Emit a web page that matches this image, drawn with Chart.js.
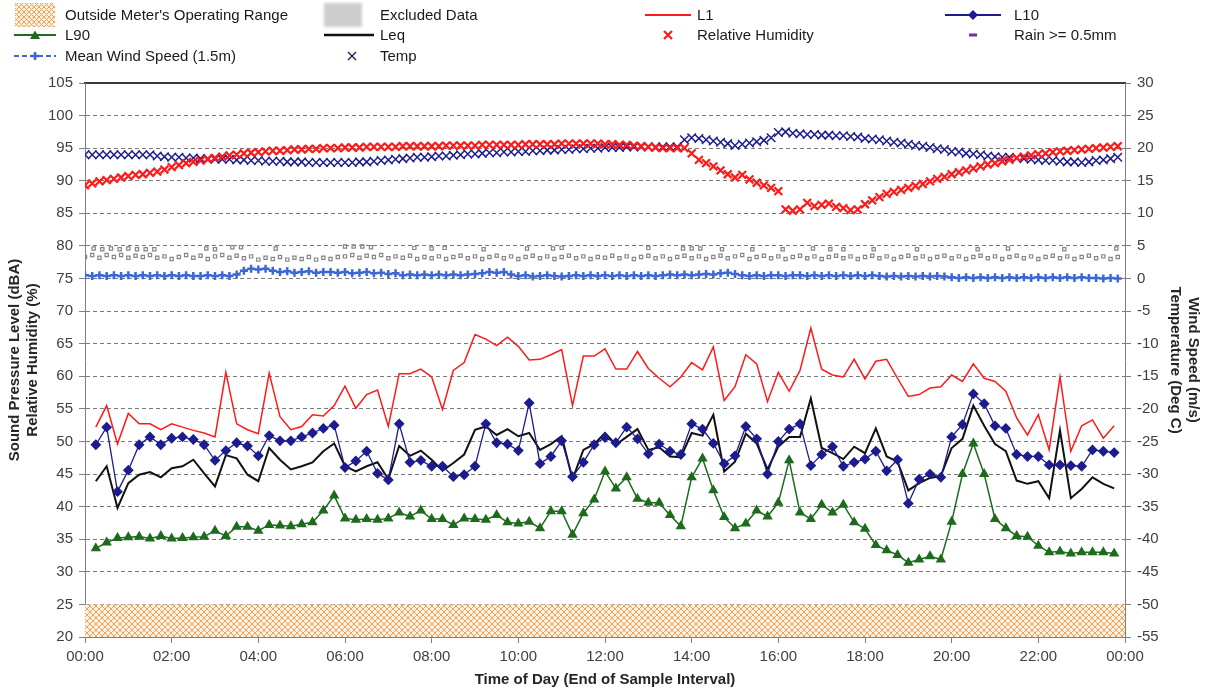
<!DOCTYPE html>
<html>
<head>
<meta charset="utf-8">
<script src="https://cdn.jsdelivr.net/npm/chart.js@4.4.0/dist/chart.umd.min.js"></script>
<style>
  html, body { margin: 0; padding: 0; background: #fff; }
  #wrap { position: relative; width: 1205px; height: 693px; font-family: Arial, "Liberation Sans", sans-serif; }
  #chart { position: absolute; left: 0; top: 0; }
  .lg-icon { position: absolute; height: 26px; }
  .lg-text { position: absolute; font-size: 15px; color: #1a1a1a; line-height: 20px; white-space: nowrap; }
</style>
</head>
<body>
<div id="wrap">
  <canvas id="chart" width="1205" height="693"></canvas>
  <div id="legend"></div>
</div>
<script>
// =====================
// 資料 (15 分鐘 / 10 分鐘)
// =====================
// noise levels, dBA, 00:15 .. 23:45 every 15 min
const L1 = [
  52.2, 55.5, 49.6, 54.3, 52.7, 52.7, 51.8, 52.7, 52.2, 51.7, 51.3, 50.7, 60.6, 52.7, 51.8, 51.2, 60.5, 53.8, 51.8, 52.3, 54.1, 53.9, 55.5, 58.5, 55.1,
  57.2, 57.9, 52.3, 60.4, 60.4, 61.1, 59.9, 54.9, 60.9, 62.1, 66.4, 65.7, 64.7, 66.0, 64.6, 62.5, 62.6, 63.3, 64.1, 55.5, 63.1, 63.1, 64.2, 61.1,
  61.1, 63.8, 61.2, 59.7, 58.4, 59.9, 62.1, 61.0, 64.5, 56.3, 58.4, 63.3, 61.9, 56.1, 60.6, 57.7, 60.9, 67.4, 61.1, 60.2, 59.9, 62.6, 59.6, 62.3,
  62.6, 59.7, 56.9, 57.2, 58.2, 58.4, 60.2, 59.2, 61.9, 59.7, 59.2, 57.7, 53.6, 51.0, 54.1, 48.7, 59.9, 48.5, 52.4, 53.3, 50.5, 52.4
];
const L10 = [
  49.5, 52.2, 42.3, 45.6, 49.5, 50.7, 49.5, 50.5, 50.7, 50.3, 49.5, 47.1, 48.6, 49.8, 49.3, 47.8, 50.9, 50.1, 50.1, 50.7, 51.3, 52.0, 52.5, 46.0, 47.0,
  48.5, 45.1, 44.1, 52.7, 46.8, 47.1, 46.2, 46.2, 44.6, 44.9, 46.2, 52.7, 49.8, 49.6, 48.6, 55.9, 46.6, 47.7, 50.1, 44.6, 46.8, 49.5, 50.6, 49.8,
  52.2, 50.4, 48.1, 49.6, 48.5, 48.0, 52.7, 51.9, 49.7, 46.6, 47.8, 52.3, 50.4, 45.0, 50.0, 51.9, 52.7, 46.3, 48.0, 49.2, 46.2, 46.8, 47.3, 48.5,
  45.5, 47.2, 40.5, 44.2, 45.0, 44.5, 50.7, 52.6, 57.3, 55.8, 52.4, 52.0, 48.0, 47.7, 47.7, 46.4, 46.4, 46.3, 46.2, 48.7, 48.5, 48.3
];
const Leq = [
  43.9, 46.2, 39.8, 43.6, 44.9, 45.3, 44.5, 45.9, 46.2, 47.2, 45.1, 43.1, 47.9, 47.4, 44.9, 43.9, 49.0, 47.2, 45.7, 46.2, 46.8, 48.5, 49.7, 46.2, 45.4,
  46.2, 46.8, 44.2, 49.3, 47.8, 48.6, 47.2, 45.5, 46.7, 48.0, 51.8, 52.3, 51.0, 51.9, 50.8, 51.3, 48.7, 49.6, 50.8, 44.2, 48.7, 49.6, 51.3, 49.5,
  50.7, 51.9, 48.7, 49.1, 47.7, 47.6, 51.3, 50.9, 54.1, 45.4, 46.9, 51.2, 49.7, 45.7, 49.2, 50.7, 50.7, 56.6, 49.0, 48.2, 47.3, 49.2, 48.2, 52.0,
  47.7, 46.9, 42.5, 43.6, 44.4, 44.7, 49.0, 50.4, 55.5, 52.4, 49.6, 48.5, 44.0, 43.5, 43.9, 41.3, 51.7, 41.3, 42.7, 44.5, 43.5, 42.8
];
const L90 = [
  33.6, 34.5, 35.2, 35.3, 35.4, 35.1, 35.5, 35.1, 35.2, 35.3, 35.4, 36.3, 35.5, 36.9, 36.9, 36.3, 37.2, 37.1, 37.0, 37.3, 37.6, 39.4, 41.7, 38.2, 38.0,
  38.1, 38.0, 38.2, 39.1, 38.5, 39.4, 38.1, 38.1, 37.2, 38.2, 38.1, 38.0, 38.7, 37.6, 37.4, 37.7, 36.7, 39.3, 39.3, 35.7, 39.0, 41.1, 45.4, 42.8,
  44.5, 41.2, 40.6, 40.6, 38.7, 37.0, 44.5, 47.4, 42.5, 38.4, 36.7, 37.4, 39.4, 38.5, 40.6, 47.1, 39.1, 38.1, 40.3, 39.1, 40.3, 37.6, 36.6, 34.1,
  33.3, 32.6, 31.4, 31.9, 32.4, 31.9, 37.7, 45.0, 49.7, 45.0, 38.1, 36.7, 35.5, 35.4, 34.0, 33.0, 33.1, 32.8, 33.0, 33.0, 33.0, 32.8
];

// weather, 00:00 .. 23:50 every 10 min
const humidity = [
  89.3, 89.6, 89.9, 90.1, 90.3, 90.5, 90.7, 90.9, 91.0, 91.2, 91.4, 91.7,
  92.1, 92.4, 92.7, 92.9, 93.1, 93.3, 93.5, 93.7, 93.9, 94.0, 94.2, 94.3,
  94.4, 94.5, 94.6, 94.6, 94.7, 94.8, 94.8, 94.9, 94.9, 95.0, 95.0, 95.0,
  95.1, 95.1, 95.1, 95.2, 95.2, 95.2, 95.2, 95.2, 95.3, 95.3, 95.3, 95.3,
  95.3, 95.3, 95.4, 95.4, 95.4, 95.4, 95.4, 95.5, 95.5, 95.5, 95.5, 95.5,
  95.5, 95.6, 95.6, 95.6, 95.6, 95.6, 95.7, 95.7, 95.7, 95.7, 95.7, 95.7,
  95.6, 95.6, 95.5, 95.5, 95.4, 95.3, 95.2, 95.1, 95.0, 95.0, 95.0, 95.0,
  94.2, 93.2, 92.7, 92.2, 91.6, 91.0, 90.5, 90.9, 90.2, 89.7, 89.3, 88.9,
  88.4, 85.6, 85.4, 85.6, 86.6, 86.1, 86.3, 86.5, 86.0, 85.8, 85.5, 85.6,
  86.4, 87.0, 87.5, 88.0, 88.3, 88.6, 88.9, 89.2, 89.5, 89.9, 90.3, 90.6,
  91.0, 91.3, 91.6, 91.9, 92.2, 92.5, 92.7, 93.0, 93.2, 93.5, 93.7, 93.9,
  94.1, 94.2, 94.4, 94.5, 94.6, 94.7, 94.8, 94.9, 95.0, 95.1, 95.2, 95.3
];
const temp = [
  19.0, 19.0, 19.0, 19.0, 19.0, 19.0, 19.0, 19.0, 19.0, 19.0, 18.8, 18.7,
  18.6, 18.6, 18.5, 18.5, 18.4, 18.4, 18.3, 18.3, 18.3, 18.2, 18.2, 18.1,
  18.1, 18.0, 18.0, 18.0, 17.9, 17.9, 17.9, 17.8, 17.8, 17.8, 17.8, 17.8,
  17.8, 17.8, 17.9, 17.9, 18.0, 18.1, 18.2, 18.3, 18.4, 18.5, 18.6, 18.6,
  18.7, 18.8, 18.8, 18.9, 19.0, 19.1, 19.1, 19.2, 19.3, 19.3, 19.4, 19.4,
  19.5, 19.5, 19.6, 19.6, 19.7, 19.7, 19.8, 19.8, 19.9, 19.9, 20.0, 20.0,
  20.1, 20.1, 20.1, 20.2, 20.2, 20.2, 20.2, 20.2, 20.2, 20.2, 20.2, 21.3,
  21.6, 21.5, 21.3, 21.1, 20.9, 20.7, 20.4, 20.6, 20.8, 21.0, 21.2, 21.6,
  22.4, 22.5, 22.3, 22.2, 22.1, 22.1, 22.0, 22.0, 21.9, 21.9, 21.8, 21.7,
  21.5, 21.4, 21.3, 21.1, 20.9, 20.8, 20.6, 20.4, 20.3, 20.1, 19.9, 19.8,
  19.5, 19.4, 19.2, 19.1, 19.0, 18.8, 18.7, 18.6, 18.6, 18.5, 18.4, 18.3,
  18.2, 18.1, 18.1, 18.0, 17.9, 17.9, 17.8, 17.9, 18.1, 18.2, 18.4, 18.6
];
const wind = [
  0.5, 0.4, 0.5, 0.4, 0.5, 0.4, 0.5, 0.4, 0.5, 0.4, 0.5, 0.4,
  0.5, 0.4, 0.5, 0.4, 0.4, 0.5, 0.4, 0.5, 0.4, 0.6, 1.2, 1.5,
  1.4, 1.5, 1.2, 1.0, 1.1, 0.9, 1.0, 1.1, 0.9, 1.0, 1.0, 0.9,
  1.0, 0.8, 0.9, 1.0, 0.8, 0.9, 0.7, 0.8, 0.5, 0.6, 0.5, 0.6,
  0.5, 0.6, 0.5, 0.6, 0.5, 0.6, 0.7, 0.8, 1.0, 0.9, 1.0, 0.6,
  0.4, 0.5, 0.3, 0.4, 0.5, 0.4, 0.3, 0.4, 0.5, 0.4, 0.5, 0.4,
  0.5, 0.4, 0.5, 0.4, 0.5, 0.4, 0.5, 0.4, 0.5, 0.6, 0.5, 0.6,
  0.5, 0.6, 0.7, 0.6, 0.8, 0.9, 0.7, 0.5, 0.4, 0.5, 0.4, 0.5,
  0.5, 0.4, 0.5, 0.5, 0.4, 0.5, 0.4, 0.5, 0.4, 0.5, 0.4, 0.5,
  0.4, 0.5, 0.4, 0.3, 0.4, 0.3, 0.4, 0.3, 0.4, 0.3, 0.4, 0.3,
  0.2, 0.1, 0.2, 0.1, 0.2, 0.1, 0.2, 0.1, 0.2, 0.1, 0.2, 0.1,
  0.2, 0.1, 0.2, 0.1, 0.2, 0.1, 0.2, 0.1, 0.1, 0.0, 0.1, 0.0
];
// small grey station marks (right axis units)
const marksLow = [
  3.3, 3.6, 3.2, 3.6, 3.3, 3.6, 3.2, 3.5, 3.3, 3.6, 3.2, 3.4,
  3.0, 3.3, 3.6, 3.2, 3.5, 3.0, 3.4, 3.6, 3.2, 3.5, 3.1, 3.4,
  2.9, 3.2, 3.0, 3.3, 2.9, 3.2, 3.0, 3.3, 2.9, 3.2, 3.0, 3.3,
  3.4, 3.6, 3.2, 3.5, 3.3, 3.6, 3.1, 3.4, 3.2, 3.5, 3.0, 3.3,
  3.1, 3.4, 3.0, 3.3, 3.5, 3.1, 3.4, 3.0, 3.3, 3.5, 3.1, 3.4,
  3.0, 3.3, 3.5, 3.1, 3.4, 3.0, 3.3, 3.5, 3.1, 3.4, 3.0, 3.3,
  3.2, 3.5, 3.1, 3.4, 3.0, 3.3, 3.5, 3.1, 3.4, 3.0, 3.3, 3.5,
  3.1, 3.4, 3.0, 3.3, 3.5, 3.1, 3.4, 3.6, 3.0, 3.3, 3.5, 3.1,
  3.4, 3.0, 3.3, 3.5, 3.1, 3.4, 3.0, 3.3, 3.5, 3.1, 3.4, 3.0,
  3.3, 3.5, 3.1, 3.4, 3.0, 3.3, 3.5, 3.1, 3.4, 3.0, 3.3, 3.5,
  3.1, 3.4, 3.0, 3.3, 3.5, 3.1, 3.4, 3.0, 3.3, 3.5, 3.1, 3.4,
  3.0, 3.3, 3.5, 3.1, 3.4, 3.0, 3.3, 3.5, 3.1, 3.4, 3.0, 3.3
];
const marksHigh = [
  [0.2, 4.6], [0.4, 4.5], [0.6, 4.6], [0.8, 4.5], [1.0, 4.6], [1.2, 4.5], [1.4, 4.5], [1.6, 4.5],
  [2.8, 4.6], [3.0, 4.5], [3.4, 4.8], [3.6, 4.8], [4.4, 4.6], [6.0, 4.9], [6.2, 4.9], [6.4, 4.9],
  [6.6, 4.8], [7.6, 4.7], [8.0, 4.6], [8.3, 4.7], [9.2, 4.5], [10.2, 4.6], [10.8, 4.6], [11.0, 4.7],
  [13.0, 4.7], [13.8, 4.6], [14.0, 4.6], [14.2, 4.6], [14.7, 4.5], [15.4, 4.5], [16.1, 4.5], [16.8, 4.6],
  [17.2, 4.5], [17.5, 4.5], [18.2, 4.5], [19.2, 4.5], [20.6, 4.5], [21.3, 4.6], [22.6, 4.5], [23.8, 4.6]
];
const meterRange = [20, 25]; // outside operating range band (dBA)

const hours15 = L1.map((_, i) => (i + 1) / 4);
const hours10 = humidity.map((_, i) => i / 6);
const pts = (xs, ys) => ys.map((y, i) => ({ x: xs[i], y }));

const C = {
  red: '#ff1a1a', navy: '#1c1c8f', green: '#1e6b1e', black: '#111111',
  blue: '#3b67d8', purple: '#7030a0', grey: '#858585'
};

// 斜線填滿
function hatchPattern() {
  const c = document.createElement('canvas');
  c.width = 6; c.height = 6;
  const g = c.getContext('2d');
  g.fillStyle = '#fff1e2';
  g.fillRect(0, 0, 6, 6);
  g.strokeStyle = '#f2a35a';
  g.lineWidth = 1;
  g.beginPath();
  g.moveTo(0, 0); g.lineTo(6, 6);
  g.moveTo(6, 0); g.lineTo(0, 6);
  g.stroke();
  return g.createPattern(c, 'repeat');
}

Chart.defaults.font.family = 'Arial, "Liberation Sans", sans-serif';

const ctx = document.getElementById('chart').getContext('2d');
new Chart(ctx, {
  type: 'line',
  data: {
    datasets: [
      {
        label: "Outside Meter's Operating Range",
        data: [{ x: 0, y: meterRange[1] }, { x: 24, y: meterRange[1] }],
        yAxisID: 'y', borderWidth: 0, pointRadius: 0,
        fill: { value: meterRange[0] }, backgroundColor: hatchPattern(), order: 20
      },
      {
        label: 'Relative Humidity', data: pts(hours10, humidity), yAxisID: 'y',
        showLine: false, pointStyle: 'crossRot', pointRadius: 5.5, borderWidth: 2.2,
        borderColor: C.red, backgroundColor: C.red, order: 1
      },
      {
        label: 'Temp', data: pts(hours10, temp), yAxisID: 'y1',
        showLine: false, pointStyle: 'crossRot', pointRadius: 6, borderWidth: 1.5,
        borderColor: C.navy, backgroundColor: C.navy, order: 2
      },
      {
        label: 'Mean Wind Speed (1.5m)', data: pts(hours10, wind), yAxisID: 'y1',
        borderColor: C.blue, backgroundColor: C.blue, borderWidth: 1.5, borderDash: [5, 3],
        pointStyle: 'cross', pointRadius: 4, pointBorderWidth: 2.5, order: 3
      },
      {
        label: 'marks', data: pts(hours10, marksLow), yAxisID: 'y1',
        showLine: false, pointStyle: 'rect', pointRadius: 2.3, borderWidth: 1.2,
        borderColor: C.grey, backgroundColor: 'rgba(0,0,0,0)', order: 4
      },
      {
        label: 'marks2', data: marksHigh.map(p => ({ x: p[0], y: p[1] })), yAxisID: 'y1',
        showLine: false, pointStyle: 'rect', pointRadius: 2.3, borderWidth: 1.2,
        borderColor: C.grey, backgroundColor: 'rgba(0,0,0,0)', order: 4
      },
      {
        label: 'L90', data: pts(hours15, L90), yAxisID: 'y',
        borderColor: C.green, backgroundColor: C.green, borderWidth: 1.5,
        pointStyle: 'triangle', pointRadius: 4.5, order: 5
      },
      {
        label: 'L10', data: pts(hours15, L10), yAxisID: 'y',
        borderColor: C.navy, backgroundColor: C.navy, borderWidth: 1.3,
        pointStyle: 'rectRot', pointRadius: 4.5, order: 6
      },
      {
        label: 'Leq', data: pts(hours15, Leq), yAxisID: 'y',
        borderColor: C.black, borderWidth: 2, pointRadius: 0, order: 7
      },
      {
        label: 'L1', data: pts(hours15, L1), yAxisID: 'y',
        borderColor: C.red, borderWidth: 1.5, pointRadius: 0, order: 8
      },
      { label: 'Rain >= 0.5mm', data: [], yAxisID: 'y1', borderColor: C.purple, order: 9 }
    ]
  },
  options: {
    responsive: false,
    animation: false,
    devicePixelRatio: 1,
    layout: { padding: { top: 83, left: 0, right: 0, bottom: 0 } },
    plugins: { legend: { display: false }, tooltip: { enabled: false } },
    elements: { line: { tension: 0 } },
    scales: {
      x: {
        type: 'linear', position: 'bottom', min: 0, max: 24,
        ticks: {
          stepSize: 2, autoSkip: false, maxRotation: 0, padding: 5,
          color: '#404040', font: { size: 15 },
          callback: v => String(v % 24).padStart(2, '0') + ':00'
        },
        grid: { drawOnChartArea: false, tickLength: 6, color: '#808080' },
        border: { color: '#808080' },
        title: {
          display: true, text: 'Time of Day (End of Sample Interval)',
          color: '#262626', font: { size: 15, weight: 'bold' }, padding: { top: 0, bottom: 4 }
        },
        afterFit: s => { s.height = 56; }
      },
      xTop: {
        type: 'linear', position: 'top', min: 0, max: 24,
        ticks: { display: false }, grid: { display: false },
        border: { color: '#3a3a3a', width: 2 },
        afterFit: s => { s.height = 0; }
      },
      y: {
        position: 'left', min: 20, max: 105,
        ticks: { stepSize: 5, color: '#404040', font: { size: 15 }, padding: 6 },
        grid: { color: '#7a7a7a', lineWidth: 1, tickLength: 6, tickColor: '#808080' },
        border: { color: '#808080', dash: [4, 3] },
        title: {
          display: true, text: ['Sound Pressure Level (dBA)', 'Relative Humidity (%)'],
          color: '#262626', font: { size: 15, weight: 'bold' }, padding: { top: 6 }
        },
        afterFit: s => { s.width = 85; }
      },
      y1: {
        position: 'right', min: -55, max: 30,
        ticks: { stepSize: 5, color: '#404040', font: { size: 15 }, padding: 6 },
        grid: { drawOnChartArea: false, tickLength: 6, color: '#808080' },
        border: { color: '#808080' },
        title: {
          display: true, text: ['Wind Speed (m/s)', 'Temperature (Deg C)'],
          color: '#262626', font: { size: 15, weight: 'bold' }, padding: { top: 3 }
        },
        afterFit: s => { s.width = 80; }
      }
    }
  }
});

// =====================
// 圖例 (HTML)
// =====================
const legendCols = [{ icon: 14, text: 65 }, { icon: 324, text: 380 }, { icon: 645, text: 697 }, { icon: 945, text: 1014 }];
const legendRows = [15, 35, 56];
const legendItems = [
  { text: "Outside Meter's Operating Range", icon: 'hatch', col: 0, row: 0 },
  { text: 'Excluded Data', icon: 'excluded', col: 1, row: 0 },
  { text: 'L1', icon: 'line', color: C.red, w: 46, col: 2, row: 0 },
  { text: 'L10', icon: 'line', color: C.navy, w: 56, marker: 'diamond', col: 3, row: 0 },
  { text: 'L90', icon: 'line', color: C.green, w: 42, marker: 'triangle', col: 0, row: 1 },
  { text: 'Leq', icon: 'line', color: C.black, w: 50, lw: 2.5, col: 1, row: 1 },
  { text: 'Relative Humidity', icon: 'x', color: C.red, w: 46, lw: 2.2, col: 2, row: 1 },
  { text: 'Rain >= 0.5mm', icon: 'dash', color: C.purple, w: 56, col: 3, row: 1 },
  { text: 'Mean Wind Speed (1.5m)', icon: 'line', color: C.blue, w: 42, dash: true, marker: 'plus', col: 0, row: 2 },
  { text: 'Temp', icon: 'x', color: '#1a1a50', w: 56, lw: 1.3, col: 1, row: 2 }
];

function iconSvg(it) {
  const w = it.w || 42, m = w / 2;
  if (it.icon === 'hatch') {
    return `<svg width="42" height="26"><defs><pattern id="hp" width="5" height="5" patternUnits="userSpaceOnUse">
      <rect width="5" height="5" fill="#fff1e2"/><path d="M0,0L5,5M5,0L0,5" stroke="#f2a35a" stroke-width="1"/></pattern></defs>
      <rect x="1" y="1" width="40" height="24" fill="url(#hp)"/></svg>`;
  }
  if (it.icon === 'excluded') {
    return `<div style="width:38px;height:24px;margin-top:1px;background:#cdcdcd;filter:blur(1.5px)"></div>`;
  }
  if (it.icon === 'dash') {
    return `<svg width="${w}" height="26"><rect x="${m - 4}" y="11.5" width="8" height="3" fill="${it.color}"/></svg>`;
  }
  if (it.icon === 'x') {
    return `<svg width="${w}" height="26"><path d="M${m - 4},9L${m + 4},17M${m + 4},9L${m - 4},17" stroke="${it.color}" stroke-width="${it.lw}"/></svg>`;
  }
  let mk = '';
  if (it.marker === 'diamond') mk = `<path d="M${m - 5},13L${m},8L${m + 5},13L${m},18Z" fill="${it.color}"/>`;
  if (it.marker === 'triangle') mk = `<path d="M${m - 5},17L${m},8.5L${m + 5},17Z" fill="${it.color}"/>`;
  if (it.marker === 'plus') mk = `<path d="M${m - 4},13L${m + 4},13M${m},9L${m},17" stroke="${it.color}" stroke-width="2.5"/>`;
  const dash = it.dash ? 'stroke-dasharray="5,3"' : '';
  return `<svg width="${w}" height="26"><line x1="0" y1="13" x2="${w}" y2="13" stroke="${it.color}" stroke-width="${it.lw || 2}" ${dash}/>${mk}</svg>`;
}

const legendEl = document.getElementById('legend');
legendItems.forEach(it => {
  const col = legendCols[it.col], y = legendRows[it.row];
  const icon = document.createElement('div');
  icon.className = 'lg-icon';
  icon.style.left = col.icon + 'px';
  icon.style.top = (y - 13) + 'px';
  icon.innerHTML = iconSvg(it);
  const txt = document.createElement('div');
  txt.className = 'lg-text';
  txt.style.left = col.text + 'px';
  txt.style.top = (y - 10) + 'px';
  txt.textContent = it.text;
  legendEl.appendChild(icon);
  legendEl.appendChild(txt);
});
</script>
</body>
</html>
